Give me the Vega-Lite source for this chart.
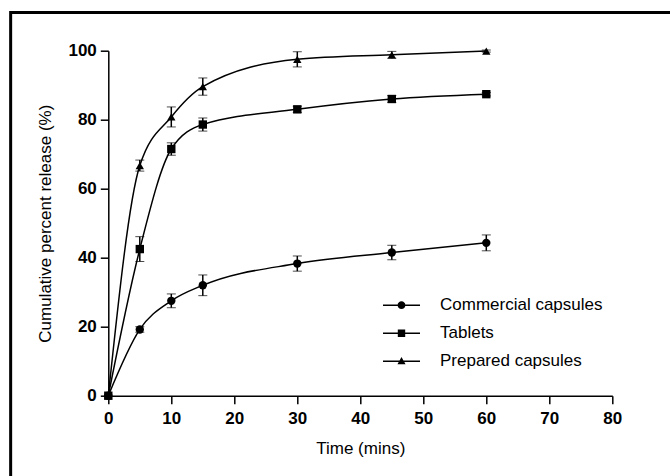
{
  "$schema": "https://vega.github.io/schema/vega-lite/v6.json",
  "autosize": "none",
  "width": 504,
  "height": 345,
  "padding": {"left": 108.3, "top": 50.7, "right": 57.7, "bottom": 80.3},
  "background": "white",
  "config": {
    "view": {"stroke": null},
    "font": "Liberation Sans",
    "axis": {
      "domainColor": "black", "domainWidth": 1.5, "tickColor": "black", "tickWidth": 1.5,
      "tickSize": 8, "labelFont": "Liberation Sans", "labelFontWeight": "bold", "labelFontSize": 17,
      "labelColor": "black", "labelFlush": false, "titleFont": "Liberation Sans", "titleFontWeight": "normal",
      "titleFontSize": 17, "titleColor": "black", "grid": false
    }
  },
  "datasets": {
    "release": [
      {"time": 0, "series": "Commercial capsules", "value": 0, "err": 0},
      {"time": 5, "series": "Commercial capsules", "value": 19.2, "err": 0.8},
      {"time": 10, "series": "Commercial capsules", "value": 27.5, "err": 2.0},
      {"time": 15, "series": "Commercial capsules", "value": 32.0, "err": 3.0},
      {"time": 30, "series": "Commercial capsules", "value": 38.3, "err": 2.2},
      {"time": 45, "series": "Commercial capsules", "value": 41.5, "err": 2.1},
      {"time": 60, "series": "Commercial capsules", "value": 44.3, "err": 2.3},
      {"time": 0, "series": "Tablets", "value": 0, "err": 0},
      {"time": 5, "series": "Tablets", "value": 42.5, "err": 3.6},
      {"time": 10, "series": "Tablets", "value": 71.5, "err": 1.8},
      {"time": 15, "series": "Tablets", "value": 78.6, "err": 1.9},
      {"time": 30, "series": "Tablets", "value": 83.0, "err": 0.9},
      {"time": 45, "series": "Tablets", "value": 86.0, "err": 1.0},
      {"time": 60, "series": "Tablets", "value": 87.4, "err": 0.5},
      {"time": 0, "series": "Prepared capsules", "value": 0, "err": 0},
      {"time": 5, "series": "Prepared capsules", "value": 66.7, "err": 1.6},
      {"time": 10, "series": "Prepared capsules", "value": 80.8, "err": 2.9},
      {"time": 15, "series": "Prepared capsules", "value": 89.6, "err": 2.5},
      {"time": 30, "series": "Prepared capsules", "value": 97.5, "err": 2.2},
      {"time": 45, "series": "Prepared capsules", "value": 98.8, "err": 1.0},
      {"time": 60, "series": "Prepared capsules", "value": 99.9, "err": 0.3}
    ]
  },
  "layer": [
    {
      "data": {"values": [{"frame": "outer"}]},
      "mark": {"type": "rect", "fill": null, "stroke": "black", "strokeWidth": 3, "clip": false},
      "encoding": {
        "x": {"datum": -15.5, "type": "quantitative", "title": "Time (mins)", "scale": {"domain": [0, 80], "nice": false}},
        "x2": {"datum": 100},
        "y": {"datum": 111.1, "type": "quantitative", "title": "Cumulative percent release (%)", "scale": {"domain": [0, 100], "nice": false}},
        "y2": {"datum": -40}
      }
    },
    {
      "data": {"name": "release"},
      "mark": {"type": "line", "interpolate": "monotone", "stroke": "black", "strokeWidth": 1.5},
      "encoding": {
        "x": {"field": "time", "type": "quantitative", "title": "Time (mins)"},
        "y": {"field": "value", "type": "quantitative", "title": "Cumulative percent release (%)"},
        "detail": {"field": "series"}
      }
    },
    {
      "data": {"name": "release"},
      "transform": [{"filter": "datum.err > 0"}],
      "mark": {"type": "errorbar", "ticks": {"size": 9, "strokeWidth": 1.8, "color": "black"}, "rule": {"strokeWidth": 1.5, "color": "black"}},
      "encoding": {
        "x": {"field": "time", "type": "quantitative", "title": "Time (mins)"},
        "y": {"field": "value", "type": "quantitative", "title": "Cumulative percent release (%)"},
        "yError": {"field": "err"},
        "detail": {"field": "series"}
      }
    },
    {
      "data": {"name": "release"},
      "mark": {"type": "point", "filled": true, "color": "black", "opacity": 1, "size": 70},
      "encoding": {
        "x": {"field": "time", "type": "quantitative", "title": "Time (mins)"},
        "y": {"field": "value", "type": "quantitative", "title": "Cumulative percent release (%)"},
        "shape": {
          "field": "series", "type": "nominal", "legend": null,
          "scale": {"domain": ["Commercial capsules", "Tablets", "Prepared capsules"], "range": ["circle", "square", "triangle-up"]}
        }
      }
    },
    {
      "data": {"name": "release"},
      "mark": {"type": "point", "filled": true, "color": "black", "opacity": 0, "size": 1},
      "encoding": {
        "x": {"field": "time", "type": "quantitative", "title": "Time (mins)", "axis": {"values": [0, 10, 20, 30, 40, 50, 60, 70, 80], "labelPadding": 7, "titlePadding": 14}},
        "y": {"field": "value", "type": "quantitative", "title": "Cumulative percent release (%)", "axis": {"values": [0, 20, 40, 60, 80, 100], "labelPadding": 4, "titlePadding": 13}},
        "shape": {
          "field": "series", "type": "nominal",
          "scale": {
            "domain": ["Commercial capsules", "Tablets", "Prepared capsules"],
            "range": [
              "M-1,-0.04H1V0.04H-1ZM0.21,0A0.21,0.21,0,1,1,-0.21,0A0.21,0.21,0,1,1,0.21,0Z",
              "M-1,-0.04H1V0.04H-1ZM-0.2,-0.2H0.2V0.2H-0.2Z",
              "M-1,-0.04H1V0.04H-1ZM0,-0.23L0.22,0.17H-0.22Z"
            ]
          },
          "legend": {
            "title": null, "orient": "none", "legendX": 273.7, "legendY": 241.5,
            "symbolSize": 1369, "symbolOpacity": 1, "symbolFillColor": "black",
            "clipHeight": 26, "rowPadding": 2, "labelOffset": 19,
            "labelFont": "Liberation Sans", "labelFontSize": 17, "labelColor": "black", "labelLimit": 300,
            "encode": {"symbols": {"update": {"fill": {"value": "black"}, "opacity": {"value": 1}}}}
          }
        }
      }
    }
  ],
  "resolve": {"scale": {"shape": "independent"}}
}
